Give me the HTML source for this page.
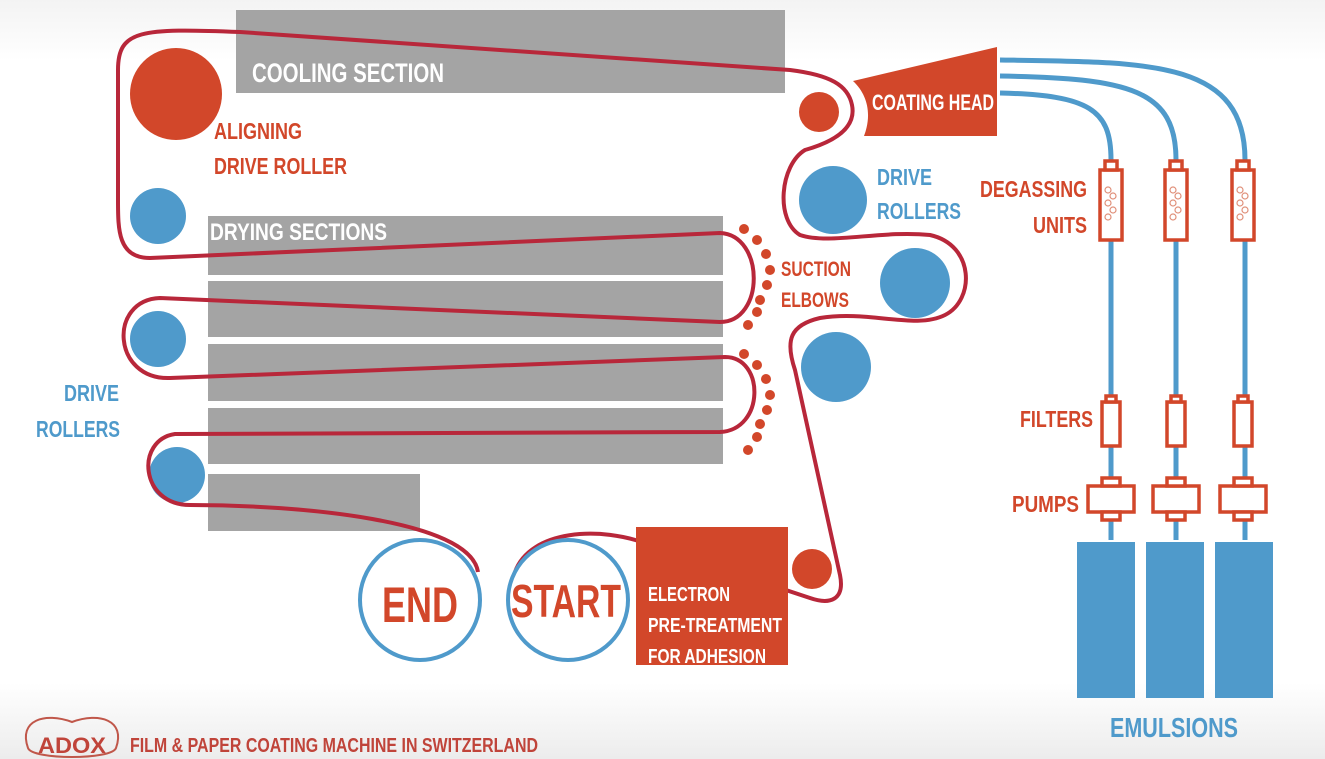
<!DOCTYPE html>
<html><head><meta charset="utf-8"><style>
html,body{margin:0;padding:0;background:#fff;}
svg{display:block;}
text{font-family:"Liberation Sans",sans-serif;font-weight:bold;}
</style></head><body>
<svg width="1325" height="759" viewBox="0 0 1325 759" xmlns="http://www.w3.org/2000/svg">
<defs><linearGradient id="bg" x1="0" y1="0" x2="0" y2="1"><stop offset="0" stop-color="#f3f3f3"/><stop offset="0.08" stop-color="#fff"/><stop offset="0.9" stop-color="#fff"/><stop offset="1" stop-color="#ececec"/></linearGradient></defs>
<rect width="1325" height="759" fill="url(#bg)"/>
<rect x="236" y="10" width="549" height="83" fill="#a4a4a4"/>
<rect x="208" y="216" width="515" height="59" fill="#a4a4a4"/>
<rect x="208" y="281" width="515" height="56" fill="#a4a4a4"/>
<rect x="208" y="344" width="515" height="57" fill="#a4a4a4"/>
<rect x="208" y="408" width="515" height="56" fill="#a4a4a4"/>
<rect x="208" y="474" width="212" height="57" fill="#a4a4a4"/>
<text x="252" y="82" fill="#fff" font-size="27" textLength="192" lengthAdjust="spacingAndGlyphs">COOLING SECTION</text>
<text x="210" y="240" fill="#fff" font-size="24" textLength="177" lengthAdjust="spacingAndGlyphs">DRYING SECTIONS</text>
<circle cx="176" cy="94" r="46" fill="#d2472a"/>
<circle cx="158" cy="216" r="28" fill="#4f9acb"/>
<circle cx="158" cy="339" r="28" fill="#4f9acb"/>
<circle cx="177" cy="475" r="28" fill="#4f9acb"/>
<circle cx="833" cy="200" r="34" fill="#4f9acb"/>
<circle cx="915" cy="283" r="35" fill="#4f9acb"/>
<circle cx="836" cy="367" r="35" fill="#4f9acb"/>
<circle cx="819" cy="112" r="20" fill="#d2472a"/>
<circle cx="812" cy="569" r="20" fill="#d2472a"/>
<path d="M478,572 C470,520 300,505 190,505 C140,505 135,440 175,434 L720,432 C765,430 765,357 725,357 L170,378 C112,380 108,300 160,298 L720,322 C765,322 765,235 720,233 L150,258 C118,258 118,230 118,200 L118,70 C118,30 140,28 240,32 L790,70 C830,75 848,85 852,105 C856,125 840,140 805,150 C780,165 775,220 800,235 C830,245 880,230 930,235 C975,245 975,300 945,315 C915,330 870,310 820,318 C790,325 785,340 795,370 L840,575 C845,600 830,605 810,598 L650,545 C600,525 530,530 515,572" fill="none" stroke="#b8273a" stroke-width="4"/>
<g fill="#d2472a">
<circle cx="744" cy="229" r="5"/><circle cx="757" cy="240" r="5"/><circle cx="766" cy="254" r="5"/><circle cx="770" cy="270" r="5"/><circle cx="767" cy="285" r="5"/><circle cx="760" cy="300" r="5"/><circle cx="757" cy="312" r="5"/><circle cx="748" cy="325" r="5"/>
<circle cx="744" cy="354" r="5"/><circle cx="757" cy="365" r="5"/><circle cx="766" cy="379" r="5"/><circle cx="770" cy="395" r="5"/><circle cx="767" cy="410" r="5"/><circle cx="760" cy="424" r="5"/><circle cx="757" cy="437" r="5"/><circle cx="748" cy="450" r="5"/>
</g>
<circle cx="420" cy="600" r="60" fill="#fff" stroke="#4f9acb" stroke-width="4"/>
<circle cx="568" cy="600" r="60" fill="#fff" stroke="#4f9acb" stroke-width="4"/>
<text x="382" y="622" fill="#d2472a" font-size="50" textLength="76" lengthAdjust="spacingAndGlyphs">END</text>
<text x="511" y="617" fill="#d2472a" font-size="46" textLength="110" lengthAdjust="spacingAndGlyphs">START</text>
<rect x="636" y="527" width="152" height="138" fill="#d2472a"/>
<g fill="#fff" font-size="20">
<text x="648" y="601" textLength="82" lengthAdjust="spacingAndGlyphs">ELECTRON</text>
<text x="648" y="632" textLength="134" lengthAdjust="spacingAndGlyphs">PRE-TREATMENT</text>
<text x="648" y="663" textLength="118" lengthAdjust="spacingAndGlyphs">FOR ADHESION</text>
</g>
<path d="M1000,60 C1150,62 1245,60 1245,160 L1245,540 M1000,76 C1130,78 1176,90 1176,160 L1176,540 M1000,93 C1090,95 1111,110 1111,160 L1111,540" fill="none" stroke="#4f9acb" stroke-width="5"/>
<path d="M853,81 L997,47 L997,136 L864,136 C872,115 868,95 853,81 Z" fill="#d2472a"/>
<text x="872" y="110" fill="#fff" font-size="22" textLength="122" lengthAdjust="spacingAndGlyphs">COATING HEAD</text>
<g fill="#d2472a" font-size="23">
<text x="214" y="139" textLength="88" lengthAdjust="spacingAndGlyphs">ALIGNING</text>
<text x="214" y="174" textLength="133" lengthAdjust="spacingAndGlyphs">DRIVE ROLLER</text>
<text x="781" y="276" font-size="21" textLength="70" lengthAdjust="spacingAndGlyphs">SUCTION</text>
<text x="781" y="307" font-size="21" textLength="68" lengthAdjust="spacingAndGlyphs">ELBOWS</text>
<text x="980" y="197" textLength="107" lengthAdjust="spacingAndGlyphs">DEGASSING</text>
<text x="1033" y="233" textLength="54" lengthAdjust="spacingAndGlyphs">UNITS</text>
<text x="1020" y="427" textLength="73" lengthAdjust="spacingAndGlyphs">FILTERS</text>
<text x="1012" y="512" textLength="67" lengthAdjust="spacingAndGlyphs">PUMPS</text>
</g>
<g fill="#4f9acb" font-size="23">
<text x="877" y="185" textLength="55" lengthAdjust="spacingAndGlyphs">DRIVE</text>
<text x="877" y="219" textLength="84" lengthAdjust="spacingAndGlyphs">ROLLERS</text>
<text x="64" y="401" textLength="55" lengthAdjust="spacingAndGlyphs">DRIVE</text>
<text x="36" y="437" textLength="84" lengthAdjust="spacingAndGlyphs">ROLLERS</text>
<text x="1110" y="737" font-size="28" textLength="128" lengthAdjust="spacingAndGlyphs">EMULSIONS</text>
</g>
<g fill="#fff" stroke="#d2472a" stroke-width="3.5">
<g id="u1">
<rect x="1100" y="170" width="22" height="70"/><rect x="1105" y="161" width="12" height="9"/>
<rect x="1102" y="402" width="18" height="44"/><rect x="1106" y="396" width="10" height="6"/>
<rect x="1088" y="486" width="46" height="26"/><rect x="1102" y="478" width="18" height="8"/><rect x="1102" y="512" width="18" height="8"/>
</g>
<use href="#u1" x="65"/>
<use href="#u1" x="132"/>
</g>
<g fill="none" stroke="#e0907a" stroke-width="1.2">
<circle cx="1108" cy="190" r="3"/><circle cx="1113" cy="196" r="3"/><circle cx="1108" cy="203" r="3"/><circle cx="1113" cy="210" r="3"/><circle cx="1108" cy="217" r="3"/>
<circle cx="1173" cy="190" r="3"/><circle cx="1178" cy="196" r="3"/><circle cx="1173" cy="203" r="3"/><circle cx="1178" cy="210" r="3"/><circle cx="1173" cy="217" r="3"/>
<circle cx="1240" cy="190" r="3"/><circle cx="1245" cy="196" r="3"/><circle cx="1240" cy="203" r="3"/><circle cx="1245" cy="210" r="3"/><circle cx="1240" cy="217" r="3"/>
</g>
<rect x="1077" y="542" width="58" height="156" fill="#4f9acb"/>
<rect x="1146" y="542" width="58" height="156" fill="#4f9acb"/>
<rect x="1215" y="542" width="58" height="156" fill="#4f9acb"/>
<path d="M28,748 C18,720 45,712 72,722 C99,712 126,720 116,748 C112,760 32,760 28,748 Z" fill="none" stroke="#c0574a" stroke-width="2"/>
<text x="38" y="753" fill="#c0443a" font-size="22" textLength="68" lengthAdjust="spacingAndGlyphs">ADOX</text>
<text x="130" y="752" fill="#c0443a" font-size="20" textLength="408" lengthAdjust="spacingAndGlyphs">FILM &amp; PAPER COATING MACHINE IN SWITZERLAND</text>
</svg>
</body></html>
